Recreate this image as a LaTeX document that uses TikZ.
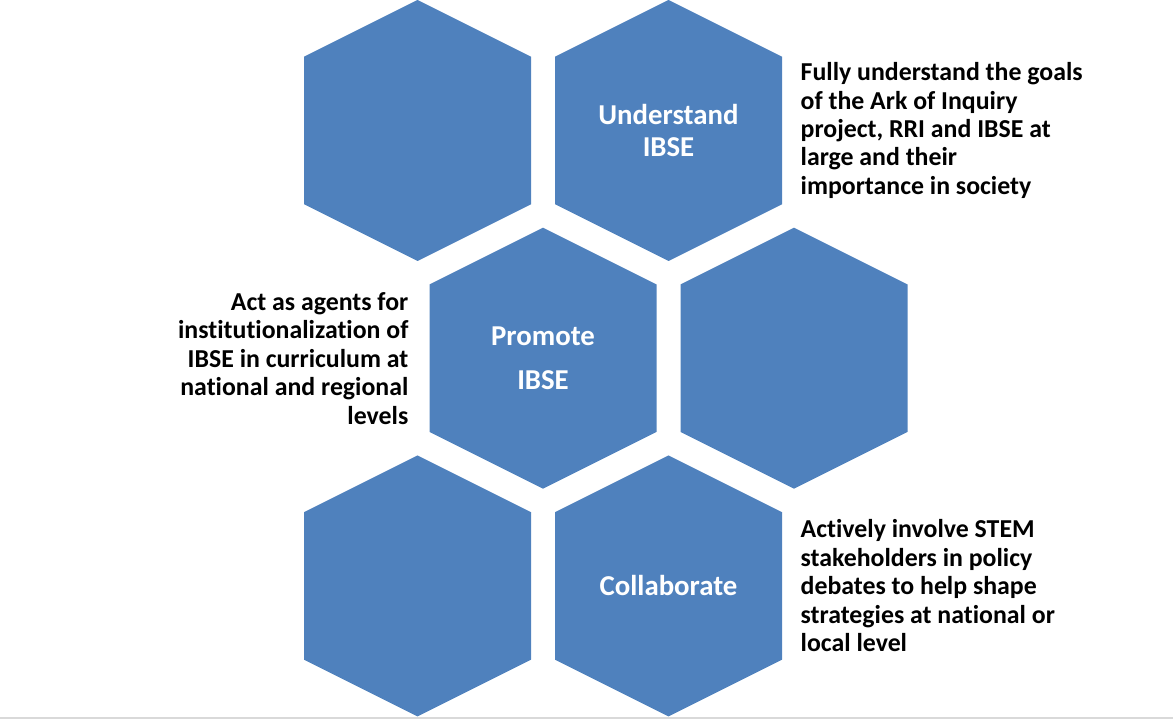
\documentclass[tikz,border=0pt]{standalone}
\usepackage{fontspec}
\setmainfont{Carlito}[Ligatures=NoCommon]
\usepackage{tikz}
\usetikzlibrary{positioning}
\definecolor{hexblue}{HTML}{4F81BD}

\begin{document}
\begin{tikzpicture}[x=0.02cm,y=0.02cm,
	hexlabel/.style={inner sep=0pt, minimum width=4.54cm, minimum height=5.22cm, text=white, align=center, font=\fontsize{16.4}{18.4}\selectfont\bfseries},
	goaltext/.style={inner sep=0pt, align=left, font=\fontsize{14.7}{16.2}\selectfont\bfseries}]
	\useasboundingbox (0,0) rectangle (1173,-719);
	\foreach \cx/\cy/\cell/\txt in {417.5/-130.5/cellA/{}, 668.5/-130.5/understand/{Understand\\IBSE}, 543/-358.2/promote/{Promote\\[6.6pt]IBSE}, 794/-358.2/cellB/{}, 417.5/-585.9/cellC/{}, 668.5/-585.9/collaborate/{Collaborate}}{
		\fill [hexblue] (\cx,\cy+130.5) -- ++(113.5,-56.75) -- ++(0,-147.5) -- ++(-113.5,-56.75) -- ++(-113.5,56.75) -- ++(0,147.5) -- cycle;
		\node [hexlabel] (\cell) at (\cx,\cy) {\txt};
	}
	\node [goaltext, right=0.36cm of understand] (understandgoal) {Fully understand the goals\\of the Ark of Inquiry\\project, RRI and IBSE at\\large and their\\importance in society};
	\node [goaltext, align=right, left=0.41cm of promote] (promotegoal) {Act as agents for\\institutionalization of\\IBSE in curriculum at\\national and regional\\levels};
	\node [goaltext, right=0.36cm of collaborate] (collaborategoal) {Actively involve STEM\\stakeholders in policy\\debates to help shape\\strategies at national or\\local level};
	\draw [black!15, line width=0.6pt] (0,-718) -- (1173,-718);
\end{tikzpicture}
\end{document}
